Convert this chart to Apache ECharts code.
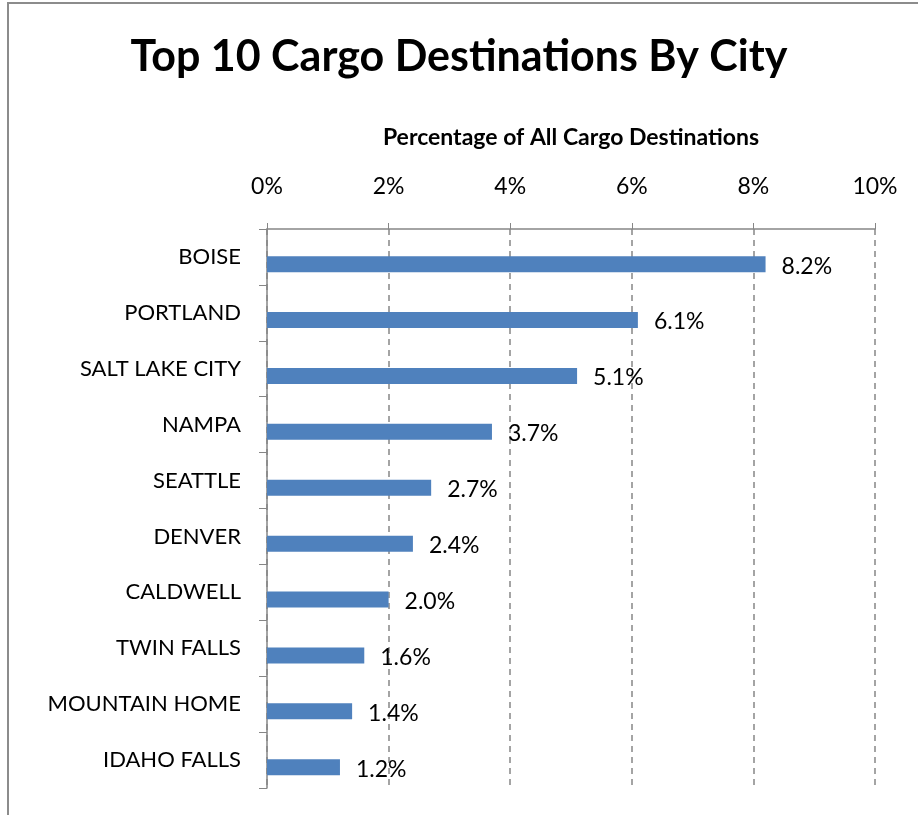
<!DOCTYPE html>
<html>
<head>
<meta charset="utf-8">
<script src="https://cdn.jsdelivr.net/npm/echarts@6/dist/echarts.min.js"></script>
<style>
* { margin: 0; padding: 0; }
html, body { background: #fff; }
</style>
</head>
<body>
<div id="histogram" style="width: 918px;height: 815px;"></div>
<script>
// data
var cities = ['BOISE', 'PORTLAND', 'SALT LAKE CITY', 'NAMPA', 'SEATTLE', 'DENVER',
  'CALDWELL', 'TWIN FALLS', 'MOUNTAIN HOME', 'IDAHO FALLS'];
var share = [8.2, 6.1, 5.1, 3.7, 2.7, 2.4, 2.0, 1.6, 1.4, 1.2];
var spacer = [0, 0, 0, 0, 0, 0, 0, 0, 0, 0];

var font = 'Lato, "Open Sans", sans-serif';
var charts = echarts.init(document.getElementById('histogram'));
charts.setOption({
  animation: false,
  title: {
    text: 'Top 10 Cargo Destinations By City',
    left: 'center',
    top: 31,
    textStyle: { fontFamily: font, fontSize: 43, fontWeight: 'bold', color: '#000' }
  },
  graphic: [{
    type: 'polyline',
    shape: { points: [[8, 815], [8, 3], [918, 3]] },
    style: { stroke: '#8c8c8c', lineWidth: 2, fill: null }
  }],
  grid: { left: 267, top: 229, right: 43, bottom: 27 },
  xAxis: {
    type: 'value',
    position: 'top',
    min: 0,
    max: 10,
    interval: 2,
    name: 'Percentage of All Cargo Destinations',
    nameLocation: 'middle',
    nameGap: 80,
    nameTextStyle: { fontFamily: font, fontSize: 23, fontWeight: 'bold', color: '#000' },
    axisLine: { show: true, lineStyle: { color: '#868686', width: 1.5 } },
    axisTick: { show: true, length: 6, lineStyle: { color: '#868686' } },
    axisLabel: { formatter: '{value}%', margin: 31, fontFamily: font, fontSize: 23, color: '#000' },
    splitLine: { show: true, lineStyle: { color: '#868686', type: [6, 5], width: 1.5 } }
  },
  yAxis: {
    type: 'category',
    data: cities,
    inverse: true,
    axisLine: { show: true, lineStyle: { color: '#868686', width: 1.5 } },
    axisTick: { show: true, length: 8, lineStyle: { color: '#868686' } },
    axisLabel: { margin: 26, fontFamily: font, fontSize: 22, color: '#000' }
  },
  series: [
    {
      type: 'bar',
      data: spacer,
      barWidth: 16,
      barGap: '-10%',
      itemStyle: { color: 'rgba(0,0,0,0)' },
      silent: true
    },
    {
      type: 'bar',
      data: share,
      barWidth: 16,
      itemStyle: { color: '#4f81bd' },
      label: {
        show: true,
        position: 'right',
        distance: 16,
        offset: [0, 2],
        formatter: function (p) { return p.value.toFixed(1) + '%'; },
        fontFamily: font,
        fontSize: 23,
        color: '#000'
      }
    }
  ]
});
</script>
</body>
</html>
